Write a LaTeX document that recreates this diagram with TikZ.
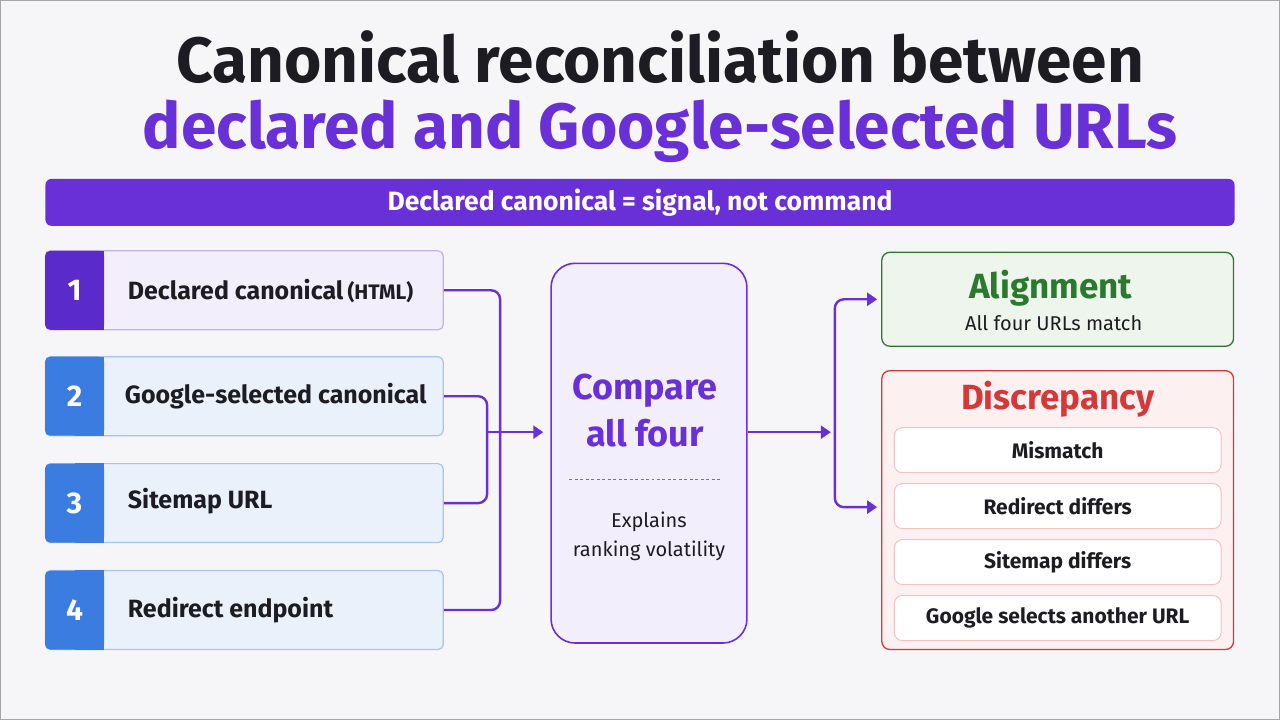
\documentclass[tikz,border=0pt]{standalone}
\usepackage{fontspec}
\setmainfont{Fira Sans}
\usepackage{xcolor}
\usetikzlibrary{arrows.meta,positioning}

\definecolor{bgcol}{HTML}{F6F6F9}
\definecolor{violet}{HTML}{6A30D8}
\definecolor{violetdk}{HTML}{5A2ACB}
\definecolor{violetbg}{HTML}{F3EEFB}
\definecolor{violetln}{HTML}{C7B0EE}
\definecolor{bluetab}{HTML}{3B7CE0}
\definecolor{bluebg}{HTML}{EAF1FB}
\definecolor{blueln}{HTML}{A8C3EE}
\definecolor{okgreen}{HTML}{2A7A2E}
\definecolor{okbg}{HTML}{EDF5EC}
\definecolor{badred}{HTML}{D6383A}
\definecolor{badbg}{HTML}{FDF0F0}
\definecolor{badln}{HTML}{F0C2C2}
\definecolor{ink}{HTML}{1C1C22}

\begin{document}
\begin{tikzpicture}[x=1pt,y=-1pt,
  srcbox/.style={draw=blueln,fill=bluebg,rounded corners=5pt,line width=1.2pt,
    minimum width=398pt,minimum height=79pt,inner sep=0pt},
  tab/.style={fill=bluetab,rounded corners=5pt,minimum width=59pt,minimum height=79pt,
    inner sep=0pt,text=white,font=\fontsize{30}{30}\selectfont\bfseries},
  lbl/.style={font=\fontsize{25}{29}\selectfont\bfseries,text=ink,anchor=west},
  subbox/.style={draw=badln,fill=white,rounded corners=8pt,line width=1pt,
    minimum width=327pt,minimum height=45pt,font=\fontsize{21}{24}\selectfont\bfseries,text=ink},
  wire/.style={draw=violet,line width=2.4pt,rounded corners=9pt},
  arr/.style={wire,-{Triangle[length=10pt,width=13pt]}}
]
\fill[bgcol] (0,0) rectangle (1280,720);
\draw[gray!70,line width=1pt] (0,0) rectangle (1280,720);

% title
\node[font=\fontsize{64}{66}\selectfont\bfseries,align=center,inner sep=0pt] (title) at (660,96)
  {\textcolor{ink}{Canonical reconciliation between}\\\textcolor{violet}{declared and Google-selected URLs}};

\node[fill=violet,rounded corners=6pt,minimum width=1190pt,minimum height=47pt,inner sep=0pt,
  text=white,font=\fontsize{26.5}{30}\selectfont\bfseries] (banner) at (640,202) {Declared canonical = signal, not command};

% the four sources
\node[srcbox,draw=violetln,fill=violetbg] (s1) at (244,290) {};
\node[srcbox] (s2) at (244,396) {};
\node[srcbox] (s3) at (244,503) {};
\node[srcbox] (s4) at (244,610) {};
\foreach \i/\c in {1/violetdk,2/bluetab,3/bluetab,4/bluetab}{
  \node[tab,fill=\c] (t\i) at (s\i.west) [anchor=west] {};
  \fill[\c] (t\i.north) rectangle (t\i.south east);
  \node[text=white,font=\fontsize{30}{30}\selectfont\bfseries] (n\i) at (t\i.center) {\i};
}
\node[lbl] (l1) at (124,291) {Declared canonical\,{\fontsize{21}{24}\selectfont(HTML)}};
\node[lbl] (l2) at (121,396) {Google-selected canonical};
\node[lbl] (l3) at (124,501) {Sitemap URL};
\node[lbl] (l4) at (124,610) {Redirect endpoint};

% comparison
\node[draw=violet,fill=violetbg,line width=1.6pt,rounded corners=24pt,
  minimum width=196pt,minimum height=380pt] (cmp) at (649,453) {};
\node[text=violet,align=center,font=\fontsize{36}{47}\selectfont\bfseries] (cmpt) at (645,410) {Compare\\all four};
\draw[violet!80,line width=1.2pt,dash pattern=on 3pt off 2.5pt] (569,479) -- (722,479);
\node[text=ink,align=center,font=\fontsize{20}{29}\selectfont] (cmpn) at (649,536) {Explains\\ranking volatility};

% outcomes
\node[draw=okgreen,fill=okbg,rounded corners=8pt,line width=1.3pt,
  minimum width=352pt,minimum height=94pt] (align) at (1058,299) {};
\node[text=okgreen,font=\fontsize{35}{38}\selectfont\bfseries] (alignt) at (1051,288) {Alignment};
\node[text=ink,font=\fontsize{20}{24}\selectfont] (aligns) at (1054,323) {All four URLs match};

\node[draw=badred,fill=badbg,rounded corners=8pt,line width=1.3pt,
  minimum width=352pt,minimum height=279pt] (disc) at (1058,510) {};
\node[text=badred,font=\fontsize{35}{38}\selectfont\bfseries] (disct) at (1058,399) {Discrepancy};
\node[subbox] (d1) at (1058,450) {Mismatch};
\node[subbox] (d2) at (1058,506) {Redirect differs};
\node[subbox] (d3) at (1058,562) {Sitemap differs};
\node[subbox] (d4) at (1058,618) {Google selects another URL};

% connectors
\coordinate (jo) at (500,432);
\coordinate (ji) at (487,432);
\coordinate (split) at (835,432);
\draw[wire] (s1.east) -| (jo);
\draw[wire] (s4.east) -| (jo);
\draw[wire] (s2.east) -| (ji);
\draw[wire] (s3.east) -| (ji);
\draw[arr,shorten >=7pt] (ji) -- (cmp.west |- ji);
\draw[arr,shorten >=4pt] (cmp.east |- split) -- (split);
\draw[arr,shorten >=4pt] (split) |- (align.west);
\draw[arr,shorten >=4pt] (split) |- ([yshift=3pt]disc.west);
\end{tikzpicture}
\end{document}
